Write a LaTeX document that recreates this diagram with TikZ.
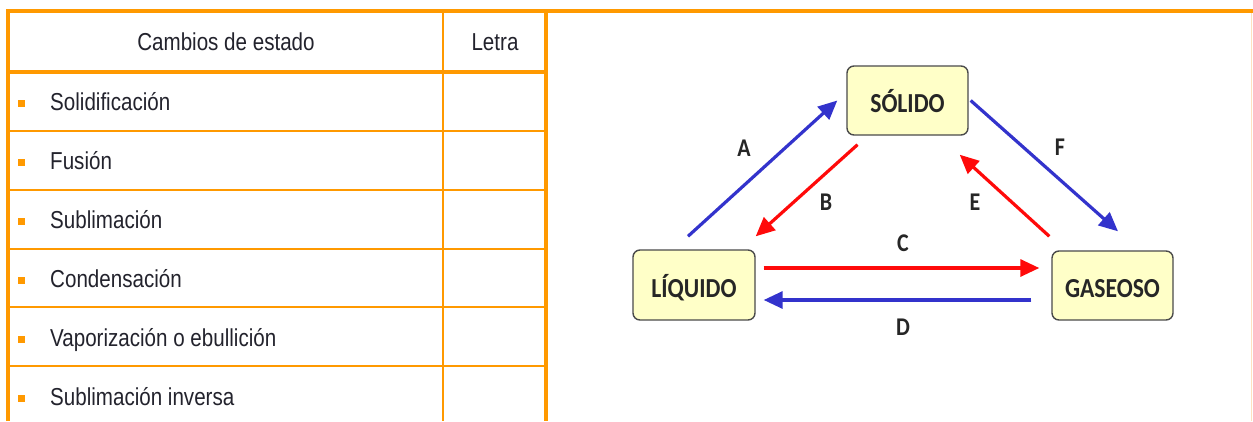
\documentclass[tikz,border=0pt]{standalone}
\usepackage{fontspec}
\setmainfont{Liberation Sans}[FakeStretch=0.84]
\newfontfamily\boxfont{Carlito}[FakeStretch=0.86]
\usetikzlibrary{arrows.meta}
\definecolor{tborder}{RGB}{255,153,0}
\definecolor{tfaint}{RGB}{255,225,190}
\definecolor{ttext}{RGB}{35,35,45}
\definecolor{ablue}{RGB}{51,51,204}
\definecolor{ared}{RGB}{255,10,10}
\definecolor{boxfill}{RGB}{255,255,200}
\definecolor{boxedge}{RGB}{75,75,75}
\tikzset{
  tline/.style={draw=tborder, line width=2.6pt},
  touter/.style={draw=tborder, line width=3.2pt},
  celltext/.style={anchor=base west, inner sep=0pt, text=ttext, font=\fontsize{24.5}{28}\selectfont},
  headtext/.style={anchor=base, inner sep=0pt, text=ttext, font=\fontsize{24.5}{28}\selectfont},
  bullet/.style={fill=tborder, minimum width=7pt, minimum height=7pt, inner sep=0pt},
  statebox/.style={draw=boxedge, line width=1.4pt, fill=boxfill, rounded corners=7pt,
    minimum width=121pt, minimum height=69pt, inner sep=0pt, text height=24pt, text depth=0pt,
    text=black!85, font=\boxfont\bfseries\fontsize{27.5}{30}\selectfont},
  letter/.style={inner sep=0pt, text height=16pt, text depth=0pt, text=black!85,
    font=\boxfont\bfseries\fontsize{25.5}{28}\selectfont},
  arr/.style={line width=3.2pt, -{Triangle[length=19pt,width=17pt]}},
  bluearr/.style={arr, draw=ablue, fill=ablue},
  redarr/.style={arr, draw=ared, fill=ared}
}
\begin{document}
\begin{tikzpicture}[x=1pt,y=-1pt]
\useasboundingbox (0,0) rectangle (1253,421);
\fill[white] (0,0) rectangle (1253,421);
% table grid
\draw[tfaint, line width=1pt] (1251.5,11) -- (1251.5,421);
\foreach \yy in {131,190,249,307,366} {
  \draw[tline] (8,\yy) -- (546,\yy);
}
\draw[touter] (8,72) -- (546,72);
\draw[tline] (443,11) -- (443,421);
\draw[touter] (546,11) -- (546,421);
\draw[touter] (8,421) -- (8,11) -- (1253,11);
% header
\node[headtext] (h1) at (226,50) {Cambios de estado};
\node[headtext] (h2) at (495,50) {Letra};
% rows
\node[bullet] (b1) at (21,103) {};
\node[celltext] (r1) at (50,110) {Solidificación};
\node[bullet] (b2) at (21,162) {};
\node[celltext] (r2) at (50,169) {Fusión};
\node[bullet] (b3) at (21,221) {};
\node[celltext] (r3) at (50,228) {Sublimación};
\node[bullet] (b4) at (21,280) {};
\node[celltext] (r4) at (50,287) {Condensación};
\node[bullet] (b5) at (21,339) {};
\node[celltext] (r5) at (50,346) {Vaporización o ebullición};
\node[bullet] (b6) at (21,398) {};
\node[celltext] (r6) at (50,405) {Sublimación inversa};
% states
\node[statebox] (sol) at (907.5,100.5) {SÓLIDO};
\node[statebox, minimum width=122pt, minimum height=70pt] (liq) at (694,285) {LÍQUIDO};
\node[statebox] (gas) at (1112.5,285.5) {GASEOSO};
% arrows
\draw[bluearr] ([shift={(-6,-13)}]liq.north) -- ([shift={(-9,0)}]sol.west);
\draw[redarr] ([shift={(-50,9)}]sol.south) -- ([shift={(0,-13)}]liq.north east);
\draw[redarr] ([shift={(-2,-14)}]gas.north west) -- ([shift={(-9,19)}]sol.south east);
\draw[bluearr] ([shift={(2,0)}]sol.east) -- ([shift={(5.5,-19)}]gas.north);
\draw[redarr] ([shift={(8,-17)}]liq.east) -- ([shift={(-12,-17.5)}]gas.west);
\draw[bluearr] ([shift={(-20,14.5)}]gas.west) -- ([shift={(8,15)}]liq.east);
% labels
\node[letter] (la) at (744,148) {A};
\node[letter] (lb) at (826,202) {B};
\node[letter] (le) at (975,202) {E};
\node[letter] (lf) at (1060,147) {F};
\node[letter] (lc) at (903,243) {C};
\node[letter] (ld) at (903,327) {D};
\end{tikzpicture}
\end{document}
